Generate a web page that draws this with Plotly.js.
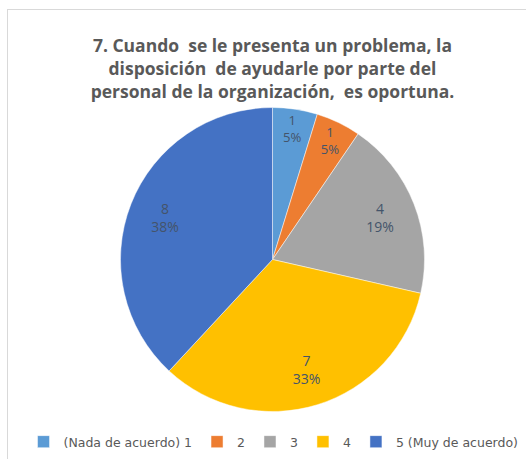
<!DOCTYPE html>
<html>
<head>
<meta charset="utf-8">
<script src="https://cdn.plot.ly/plotly-3.0.1.min.js"></script>
<style>
html,body{margin:0;padding:0;background:#fff;}
#chart{width:526px;height:459px;}
</style>
</head>
<body>
<div id="chart"></div>
<script>
const categories = ["(Nada de acuerdo) 1", "2", "3", "4", "5 (Muy de acuerdo)"];
const values = [1, 1, 4, 7, 8];
const colors = ["#5B9BD5", "#ED7D31", "#A5A5A5", "#FFC000", "#4472C4"];
const titleText = "7. Cuando  se le presenta un problema, la<br>disposición  de ayudarle por parte del<br>personal de la organización,  es oportuna.";

const W = 526, H = 459;
const cx = 272.5, cy = 259.5, r = 152;
const domain = {
  x: [(cx - r) / W, (cx + r) / W],
  y: [(H - cy - r) / H, (H - cy + r) / H]
};

const pieTrace = {
  type: "pie",
  labels: categories,
  values: values,
  sort: false,
  direction: "clockwise",
  rotation: 0,
  marker: {colors: colors, line: {color: "rgba(255,255,255,0.6)", width: 0.8}},
  textinfo: "none",
  hoverinfo: "label+value+percent",
  domain: domain
};

// transparent ring used only to place the data labels further out
const labelTrace = {
  type: "pie",
  labels: categories,
  values: values,
  sort: false,
  direction: "clockwise",
  rotation: 0,
  hole: 0.52,
  showlegend: false,
  marker: {colors: categories.map(() => "rgba(0,0,0,0)"), line: {width: 0}},
  texttemplate: "%{value}<br>%{percent:.0%}",
  textposition: "inside",
  insidetextorientation: "horizontal",
  textfont: {family: "Open Sans, sans-serif", size: 14, color: "#44546A"},
  hoverinfo: "skip",
  domain: domain
};

const layout = {
  width: W, height: H,
  margin: {l: 0, r: 0, t: 0, b: 0},
  paper_bgcolor: "#ffffff",
  showlegend: true,
  title: {
    text: "<b>" + titleText + "</b>",
    font: {family: "Open Sans, sans-serif", size: 17.5, color: "#595959"},
    x: 0.518, xanchor: "center",
    y: 1 - 52 / H, yanchor: "top"
  },
  legend: {
    orientation: "h",
    x: 0.52, xanchor: "center",
    y: 1 - 427 / H, yanchor: "top",
    font: {family: "DejaVu Sans, sans-serif", size: 12.5, color: "#595959"},
    itemwidth: 30,
    traceorder: "normal"
  },
  shapes: [
    {type: "line", xref: "paper", yref: "paper", x0: 7 / W, x1: 1, y0: 1 - 9.5 / H, y1: 1 - 9.5 / H, line: {color: "#D9D9D9", width: 1}},
    {type: "line", xref: "paper", yref: "paper", x0: 7.5 / W, x1: 7.5 / W, y0: 0, y1: 1 - 9 / H, line: {color: "#D9D9D9", width: 1}}
  ]
};

Plotly.newPlot("chart", [pieTrace, labelTrace], layout, {displayModeBar: false, responsive: false});
</script>
</body>
</html>
